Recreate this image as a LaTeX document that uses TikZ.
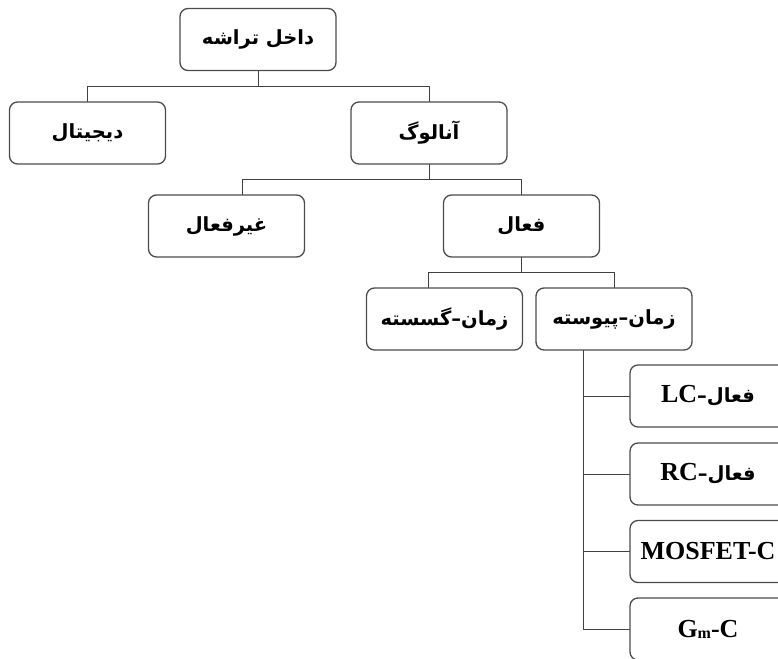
\documentclass[tikz,border=0pt]{standalone}
\usepackage{fontspec}
\newfontfamily\farsifont[Script=Arabic]{DejaVu Sans}
\newfontfamily\latinfont{Liberation Serif}
\TeXXeTstate=1
\newcommand{\fa}[1]{{\farsifont\bfseries\beginR #1\endR}}
\newcommand{\la}[1]{{\latinfont\bfseries\fontsize{26}{28}\selectfont #1}}

\begin{document}
\begin{tikzpicture}[x=1pt,y=-1pt,line cap=round,line join=round,
  box/.style={draw=black!70,line width=1.3pt,rounded corners=8pt,
    minimum width=156pt,minimum height=62pt,inner sep=0pt,
    font=\fontsize{19.5}{22}\selectfont},
  link/.style={draw=black!75,line width=1pt}]
  \useasboundingbox (0,0) rectangle (778,658);
  \clip (0,0) rectangle (778,658);
  % levels
  \node[box] (chip) at (258,39.5) {\fa{داخل تراشه}};
  \node[box] (digital) at (87.5,133) {\fa{دیجیتال}};
  \node[box] (analog) at (429,133) {\fa{آنالوگ}};
  \node[box] (passive) at (226.5,226) {\fa{غیرفعال}};
  \node[box] (active) at (521.5,226) {\fa{فعال}};
  \node[box] (discrete) at (444.5,319) {\fa{زمان–گسسته}};
  \node[box] (cont) at (614,319) {\fa{زمان–پیوسته}};
  % leaves
  \node[box] (lc) at (708,396) {\fa{فعال–\beginL\la{LC}\endL}};
  \node[box] (rc) at (708,474) {\fa{فعال–\beginL\la{RC}\endL}};
  \node[box] (mosfet) at (708,551.5) {\la{MOSFET-C}};
  \node[box] (gmc) at (708,629) {\la{G\raisebox{-1pt}{\fontsize{16}{16}\selectfont m}-C}};
  % connectors
  \draw[link] (chip.south) -- ++(0,15) -| (digital.north);
  \draw[link] (chip.south) -- ++(0,15) -| (analog.north);
  \draw[link] (analog.south) -- ++(0,15) -| ([xshift=16pt]passive.north);
  \draw[link] (analog.south) -- ++(0,15) -| (active.north);
  \draw[link] (active.south) -- ++(0,15) -| ([xshift=-16pt]discrete.north);
  \draw[link] (active.south) -- ++(0,15) -| (cont.north);
  \coordinate (trunk) at ([xshift=-31pt]cont.south);
  \foreach \leaf in {lc,rc,mosfet,gmc} {
    \draw[link] (trunk) |- (\leaf.west);
  }
\end{tikzpicture}
\end{document}
